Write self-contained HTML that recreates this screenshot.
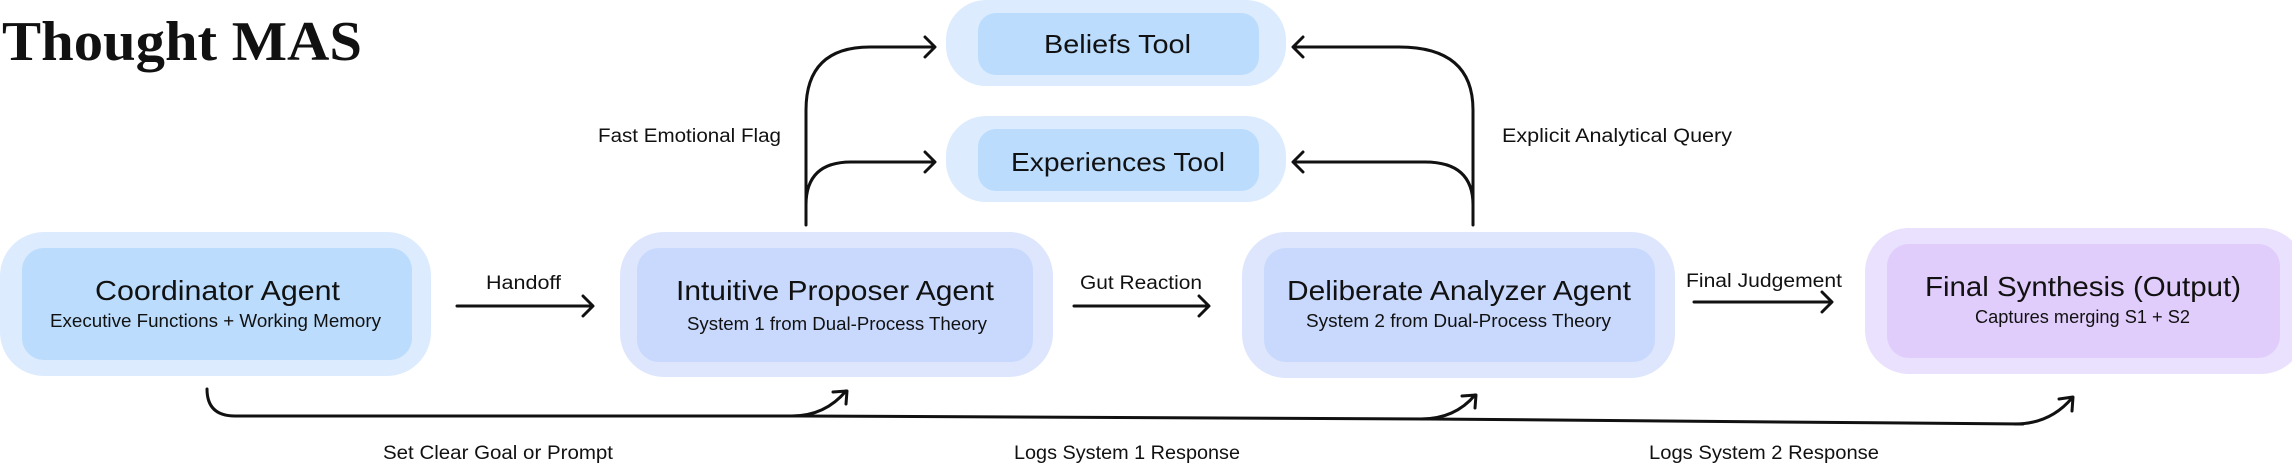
<!DOCTYPE html>
<html><head><meta charset="utf-8"><style>
html,body{margin:0;padding:0;background:#fff;}
svg{display:block;}
.s{font-family:"Liberation Sans",sans-serif;fill:#111;}
</style></head><body>
<svg width="2292" height="463" viewBox="0 0 2292 463" xmlns="http://www.w3.org/2000/svg">
<text x="2" y="60" font-family="Liberation Serif,serif" font-weight="bold" font-size="56" fill="#111" textLength="360" lengthAdjust="spacingAndGlyphs">Thought MAS</text>

<!-- tools -->
<rect x="946" y="0" width="340" height="86" rx="40" fill="#dcebfd"/>
<rect x="978" y="13" width="281" height="62" rx="18" fill="#bbdcfd"/>
<rect x="946" y="116" width="340" height="86" rx="40" fill="#dcebfd"/>
<rect x="978" y="129" width="281" height="62" rx="18" fill="#bbdcfd"/>
<text class="s" x="1044" y="53" font-size="26" textLength="147" lengthAdjust="spacingAndGlyphs">Beliefs Tool</text>
<text class="s" x="1011" y="171" font-size="26" textLength="214" lengthAdjust="spacingAndGlyphs">Experiences Tool</text>

<!-- agents -->
<rect x="0" y="232" width="431" height="144" rx="44" fill="#dcebfd"/>
<rect x="22" y="248" width="390" height="112" rx="22" fill="#bbdcfd"/>
<rect x="620" y="232" width="433" height="145" rx="44" fill="#dee6fd"/>
<rect x="637" y="248" width="396" height="114" rx="22" fill="#c8d9fd"/>
<rect x="1242" y="232" width="433" height="146" rx="44" fill="#dee6fd"/>
<rect x="1264" y="248" width="391" height="114" rx="22" fill="#c8d9fd"/>
<rect x="1865" y="228" width="440" height="146" rx="44" fill="#e9e1fd"/>
<rect x="1887" y="244" width="393" height="114" rx="22" fill="#e1cdfb"/>

<text class="s" x="95" y="300" font-size="28" textLength="245" lengthAdjust="spacingAndGlyphs">Coordinator Agent</text>
<text class="s" x="50" y="327" font-size="18" textLength="331" lengthAdjust="spacingAndGlyphs">Executive Functions + Working Memory</text>
<text class="s" x="676" y="300" font-size="28" textLength="318" lengthAdjust="spacingAndGlyphs">Intuitive Proposer Agent</text>
<text class="s" x="687" y="330" font-size="18" textLength="300" lengthAdjust="spacingAndGlyphs">System 1 from Dual-Process Theory</text>
<text class="s" x="1287" y="300" font-size="28" textLength="344" lengthAdjust="spacingAndGlyphs">Deliberate Analyzer Agent</text>
<text class="s" x="1306" y="327" font-size="18" textLength="305" lengthAdjust="spacingAndGlyphs">System 2 from Dual-Process Theory</text>
<text class="s" x="1925" y="296" font-size="28" textLength="316" lengthAdjust="spacingAndGlyphs">Final Synthesis (Output)</text>
<text class="s" x="1975" y="323" font-size="18" textLength="215" lengthAdjust="spacingAndGlyphs">Captures merging S1 + S2</text>

<!-- labels -->
<text class="s" x="486" y="289" font-size="19" textLength="75" lengthAdjust="spacingAndGlyphs">Handoff</text>
<text class="s" x="1080" y="289" font-size="19" textLength="122" lengthAdjust="spacingAndGlyphs">Gut Reaction</text>
<text class="s" x="1686" y="287" font-size="19" textLength="156" lengthAdjust="spacingAndGlyphs">Final Judgement</text>
<text class="s" x="598" y="142" font-size="19" textLength="183" lengthAdjust="spacingAndGlyphs">Fast Emotional Flag</text>
<text class="s" x="1502" y="142" font-size="19" textLength="230" lengthAdjust="spacingAndGlyphs">Explicit Analytical Query</text>
<text class="s" x="383" y="459" font-size="19" textLength="230" lengthAdjust="spacingAndGlyphs">Set Clear Goal or Prompt</text>
<text class="s" x="1014" y="459" font-size="19" textLength="226" lengthAdjust="spacingAndGlyphs">Logs System 1 Response</text>
<text class="s" x="1649" y="459" font-size="19" textLength="230" lengthAdjust="spacingAndGlyphs">Logs System 2 Response</text>

<g fill="none" stroke="#111" stroke-width="3" stroke-linecap="round" stroke-linejoin="round">
<!-- horizontal arrows -->
<path d="M457 306 H592 M583 296 L593 306 L583 316"/>
<path d="M1074 306 H1208 M1199 296 L1209 306 L1199 316"/>
<path d="M1694 302 H1831 M1822 292 L1832 302 L1822 312"/>
<!-- left trunk -->
<path d="M806 225 V110 Q806 47 870 47 H934 M925 37 L935 47 L925 57"/>
<path d="M806 205 Q806 162 851 162 H934 M925 152 L935 162 L925 172"/>
<!-- right trunk -->
<path d="M1473 225 V110 Q1473 47 1399 47 H1294 M1303 37 L1293 47 L1303 57"/>
<path d="M1473 205 Q1473 162 1425 162 H1294 M1303 152 L1293 162 L1303 172"/>
<!-- bottom line -->
<path d="M207 389 Q207 416 235 416 L800 416 L1429 419 L2023 424"/>
<path d="M792 416 Q825 416 846 391 M833 392 L847 391 L846 404"/>
<path d="M1421 419 Q1455 419 1475 395 M1462 396 L1476 395 L1475 408"/>
<path d="M2015 424 Q2050 424 2072 398 M2059 399 L2073 397 L2072 411"/>
</g>
</svg>
</body></html>
